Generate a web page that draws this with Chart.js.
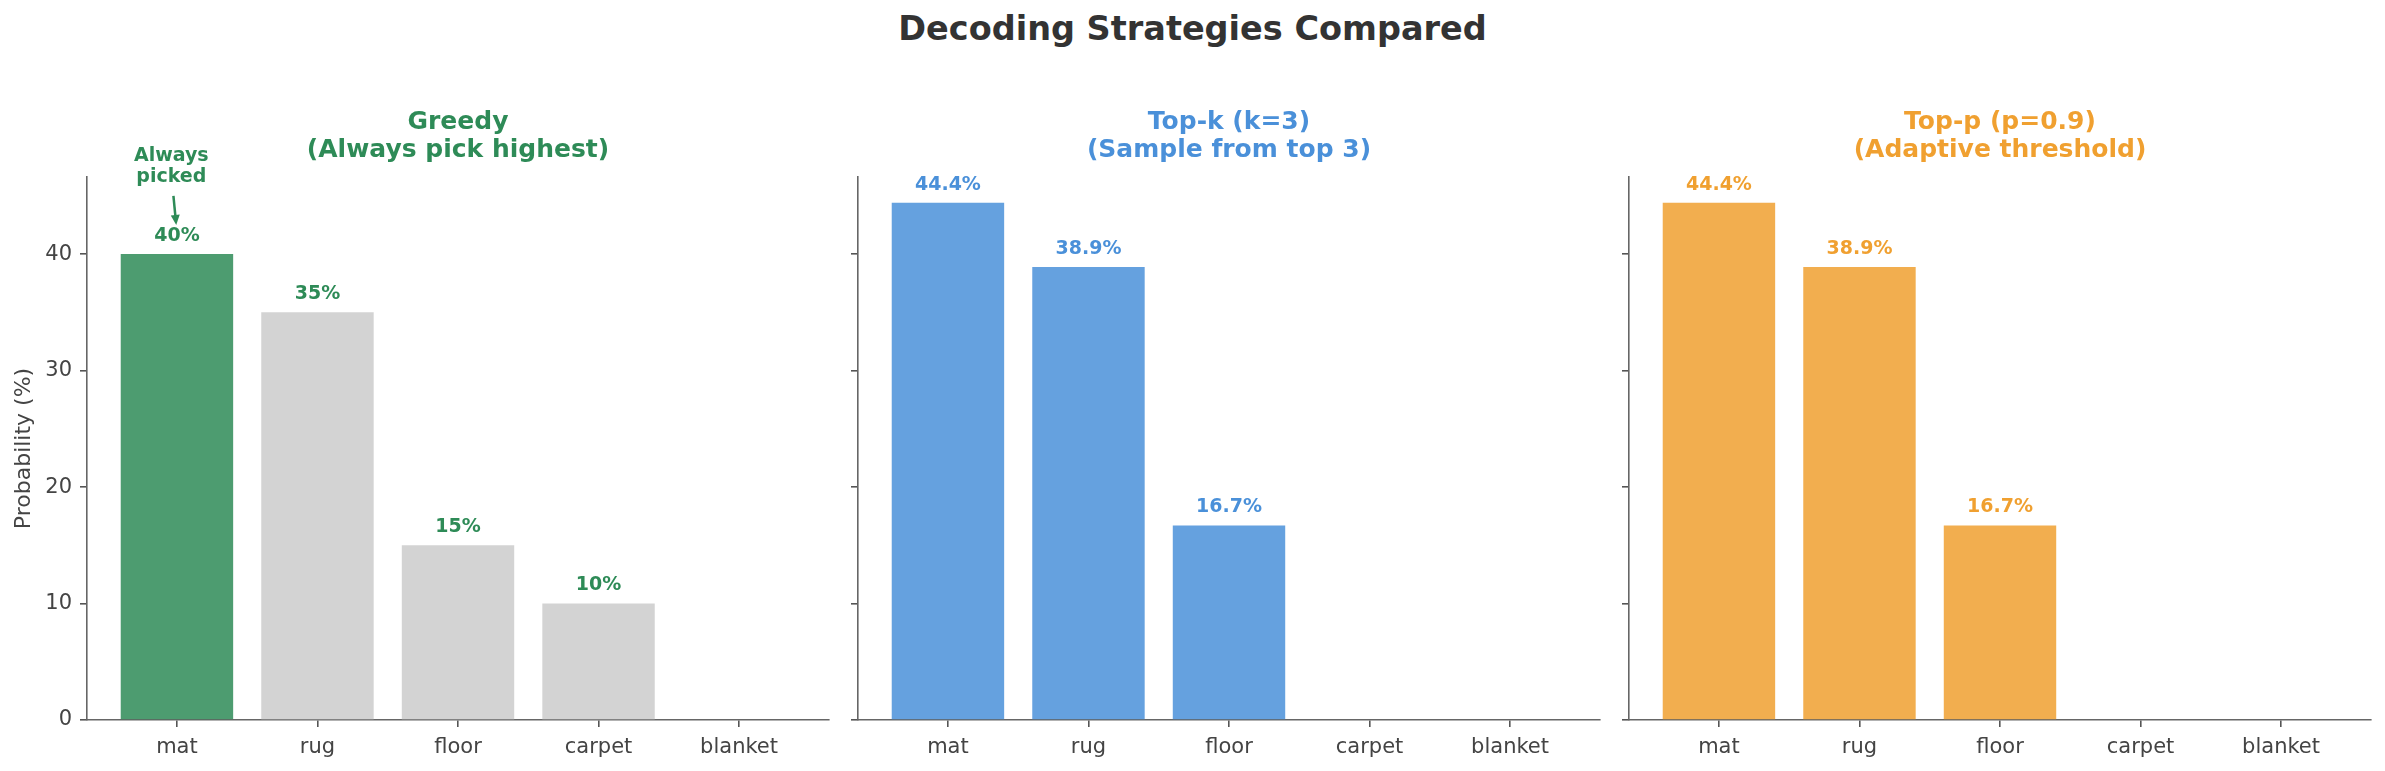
<!DOCTYPE html>
<html>
<head>
<meta charset="utf-8">
<title>Decoding Strategies Compared</title>
<script src="https://cdn.jsdelivr.net/npm/chart.js@4.4.0/dist/chart.umd.min.js"></script>
<style>
    body { margin: 0; background: #fff; width: 2385px; height: 771px; position: relative; overflow: hidden; font-family: 'DejaVu Sans', sans-serif; }
    #suptitle { position: absolute; left: 0; top: 9px; width: 2385px; text-align: center; font-weight: bold; font-size: 33.5px; line-height: 40px; color: #333; }
    canvas { position: absolute; top: 0; }
</style>
</head>
<body>
<div id="suptitle">Decoding Strategies Compared</div>
<canvas id="greedyChart" width="839" height="771" style="left:0px"></canvas>
<canvas id="topkChart" width="839" height="771" style="left:771px"></canvas>
<canvas id="toppChart" width="839" height="771" style="left:1542px"></canvas>
<script>
// ========================================
// DATA
// ========================================
const categories = ['mat', 'rug', 'floor', 'carpet', 'blanket'];
const greedyProbs = [40, 35, 15, 10, 0];
const topKProbs = [44.4, 38.9, 16.7, 0, 0];
const topPProbs = [44.4, 38.9, 16.7, 0, 0];
const yTicks = [0, 10, 20, 30, 40];
const yMax = 46.62;
const xMin = -0.64;
const xMax = 4.64;

// "Always picked" note on the greedy panel (data units)
const noteLines = ['Always', 'picked'];
const noteTextY = [48.4, 46.6];
const noteArrowFrom = { x: -0.025, y: 45.0 };
const noteArrowTo = { x: -0.005, y: 42.5 };

const FONT = 'DejaVu Sans';
const GREEN = '#2E8B57';
const BLUE = '#4A90D9';
const ORANGE = '#F0A030';

// ========================================
// HELPERS
// ========================================

// Color with alpha over white (like matplotlib alpha=0.85)
function faded(hex, alpha) {
    const n = parseInt(hex.slice(1), 16);
    const r = (n >> 16) & 255, g = (n >> 8) & 255, b = n & 255;
    return `rgba(${r}, ${g}, ${b}, ${alpha})`;
}

function pctInt(v) { return v + '%'; }
function pctOne(v) { return v.toFixed(1) + '%'; }

// Build one subplot
function makePanel(canvasId, values, barColors, titleLines, titleColor, fmt, showYLabels, extraDraw) {
    const ctx = document.getElementById(canvasId).getContext('2d');

    const panelDecor = {
        id: 'panelDecor',
        afterDatasetsDraw(chart) {
            const c = chart.ctx;
            const area = chart.chartArea;
            const meta = chart.getDatasetMeta(0);
            c.save();

            // value labels above bars
            c.font = `bold 19px "${FONT}"`;
            c.fillStyle = titleColor;
            c.textAlign = 'center';
            c.textBaseline = 'middle';
            meta.data.forEach((bar, i) => {
                const v = values[i];
                if (v <= 0) return;
                c.fillText(fmt(v), bar.x, bar.y - 18);
            });

            // panel title (two lines, centred over the axes)
            c.font = `bold 25px "${FONT}"`;
            const cx = (area.left + area.right) / 2;
            c.fillText(titleLines[0], cx, area.top - 55);
            c.fillText(titleLines[1], cx, area.top - 27);

            if (extraDraw) extraDraw(chart, c);
            c.restore();
        }
    };

    return new Chart(ctx, {
        type: 'bar',
        data: {
            datasets: [{
                data: values.map((v, i) => ({ x: i, y: v })),
                backgroundColor: barColors,
                borderWidth: 0,
                barPercentage: 0.8,
                categoryPercentage: 1.0
            }]
        },
        options: {
            responsive: false,
            animation: false,
            devicePixelRatio: 1,
            layout: { padding: { top: 177, right: 10, bottom: 0, left: 0 } },
            plugins: {
                legend: { display: false },
                tooltip: { enabled: false },
                title: { display: false }
            },
            scales: {
                x: {
                    type: 'linear',
                    min: xMin,
                    max: xMax,
                    offset: false,
                    afterBuildTicks: s => { s.ticks = categories.map((c, i) => ({ value: i })); },
                    afterFit: s => { s.height = 51; },
                    ticks: {
                        callback: v => categories[v],
                        color: '#444',
                        font: { family: FONT, size: 21 },
                        padding: 8,
                        maxRotation: 0,
                        autoSkip: false
                    },
                    grid: { drawOnChartArea: false, drawTicks: true, tickLength: 7, color: '#555', lineWidth: 1.6, offset: false },
                    border: { display: true, color: '#666', width: 1.6 }
                },
                y: {
                    min: 0,
                    max: yMax,
                    afterBuildTicks: s => { s.ticks = yTicks.map(v => ({ value: v })); },
                    afterFit: s => { s.width = 87; },
                    ticks: {
                        callback: v => showYLabels ? v : '',
                        color: '#444',
                        font: { family: FONT, size: 21 },
                        padding: 8
                    },
                    grid: { drawOnChartArea: false, drawTicks: true, tickLength: 7, color: '#555', lineWidth: 1.6 },
                    border: { display: true, color: '#666', width: 1.6 }
                }
            }
        },
        plugins: [panelDecor]
    });
}

// Greedy extras: y axis title + "Always picked" note with arrow
function drawGreedyExtras(chart, c) {
    const xs = chart.scales.x;
    const ys = chart.scales.y;
    const area = chart.chartArea;

    // y axis title
    c.save();
    c.translate(area.left - 63, (area.top + area.bottom) / 2);
    c.rotate(-Math.PI / 2);
    c.font = `22px "${FONT}"`;
    c.fillStyle = '#444';
    c.textAlign = 'center';
    c.textBaseline = 'middle';
    c.fillText('Probability (%)', 0, 0);
    c.restore();

    // note text
    c.font = `bold 19px "${FONT}"`;
    c.fillStyle = GREEN;
    c.textAlign = 'center';
    c.textBaseline = 'middle';
    noteLines.forEach((line, i) => {
        c.fillText(line, xs.getPixelForValue(-0.04), ys.getPixelForValue(noteTextY[i]));
    });

    // arrow
    const x1 = xs.getPixelForValue(noteArrowFrom.x), y1 = ys.getPixelForValue(noteArrowFrom.y);
    const x2 = xs.getPixelForValue(noteArrowTo.x), y2 = ys.getPixelForValue(noteArrowTo.y);
    const ang = Math.atan2(y2 - y1, x2 - x1);
    const head = 10, half = 4.5;
    c.strokeStyle = GREEN;
    c.lineWidth = 2.5;
    c.beginPath();
    c.moveTo(x1, y1);
    c.lineTo(x2 - Math.cos(ang) * head * 0.6, y2 - Math.sin(ang) * head * 0.6);
    c.stroke();
    c.beginPath();
    c.moveTo(x2, y2);
    c.lineTo(x2 - Math.cos(ang) * head - Math.sin(ang) * half, y2 - Math.sin(ang) * head + Math.cos(ang) * half);
    c.lineTo(x2 - Math.cos(ang) * head + Math.sin(ang) * half, y2 - Math.sin(ang) * head - Math.cos(ang) * half);
    c.closePath();
    c.fillStyle = GREEN;
    c.fill();
}

// ========================================
// CHARTS
// ========================================
const greedyColors = greedyProbs.map((v, i) => i === 0 ? faded(GREEN, 0.85) : 'rgba(211, 211, 211, 1)');

makePanel('greedyChart', greedyProbs, greedyColors,
    ['Greedy', '(Always pick highest)'], GREEN, pctInt, true, drawGreedyExtras);

makePanel('topkChart', topKProbs, faded(BLUE, 0.85),
    ['Top-k (k=3)', '(Sample from top 3)'], BLUE, pctOne, false, null);

makePanel('toppChart', topPProbs, faded(ORANGE, 0.85),
    ['Top-p (p=0.9)', '(Adaptive threshold)'], ORANGE, pctOne, false, null);
</script>
</body>
</html>
